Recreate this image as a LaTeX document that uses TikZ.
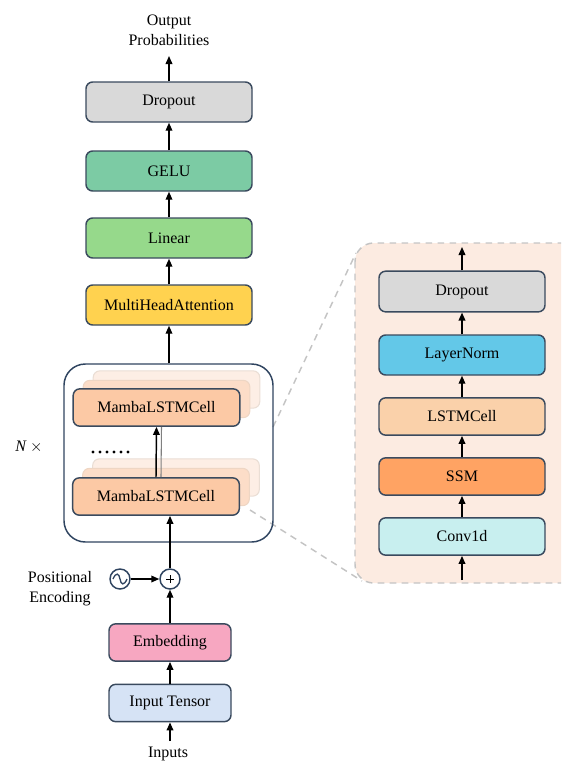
\documentclass[tikz,border=0pt]{standalone}
\usepackage{fontspec}
\setmainfont{Liberation Serif}
\usetikzlibrary{arrows.meta,calc}
\definecolor{cEdge}{HTML}{3A4A5E}
\definecolor{cDrop}{HTML}{D9D9D9}
\definecolor{cGelu}{HTML}{7CCBA4}
\definecolor{cLin}{HTML}{96D98B}
\definecolor{cMha}{HTML}{FFD24F}
\definecolor{cMamba}{HTML}{FCC9A5}
\definecolor{cMambaB}{HTML}{FCDDC8}
\definecolor{cMambaC}{HTML}{FDEEE5}
\definecolor{cEmb}{HTML}{F7A7C1}
\definecolor{cInp}{HTML}{D6E3F5}
\definecolor{cLN}{HTML}{63C8E8}
\definecolor{cLSTM}{HTML}{FAD1AA}
\definecolor{cSSM}{HTML}{FFA363}
\definecolor{cConv}{HTML}{C8EFEF}
\definecolor{cPanel}{HTML}{FCEBE1}
\definecolor{cDash}{HTML}{C4C4C4}
\definecolor{cCont}{HTML}{2F4460}
\tikzset{
  box/.style={draw=cEdge, line width=1.1pt, rounded corners=5pt, inner sep=0pt, font=\fontsize{12}{14}\selectfont},
  mainbox/.style={box, minimum width=124.5pt, minimum height=30pt},
  mambabox/.style={box, minimum width=125pt, minimum height=28pt, fill=cMamba},
  ghostB/.style={draw=cMamba!80!gray!60, line width=0.8pt, rounded corners=5pt, minimum width=125pt, minimum height=28pt, fill=cMambaB},
  ghostC/.style={draw=cMamba!60!gray!40, line width=0.8pt, rounded corners=5pt, minimum width=125pt, minimum height=28pt, fill=cMambaC},
  smallbox/.style={box, minimum width=91.5pt, minimum height=28pt},
  rbox/.style={box, minimum width=124.5pt, minimum height=29pt},
  conn/.style={line width=1.1pt, -{Triangle[length=6pt,width=5pt]}},
  lbl/.style={font=\fontsize{12}{15}\selectfont, align=center, inner sep=0pt},
  dashline/.style={draw=cDash, line width=1.1pt, dash pattern=on 5pt off 4pt},
}
\begin{document}
\begin{tikzpicture}[x=0.75pt,y=-0.75pt]
\useasboundingbox (0,0) rectangle (561,764);
\clip (0,0) rectangle (561,764);

% dashed zoom lines
\coordinate (zu1) at (273,427);
\coordinate (zu2) at (356,253);
\coordinate (zl1) at (250,510);
\coordinate (zl2) at (362,581);
\draw[dashline] (zu1) -- (zu2);
\draw[dashline] (zl1) -- (zl2);

% right panel
\draw[draw=cDash, fill=cPanel, line width=1.1pt, dash pattern=on 5pt off 4pt, rounded corners=14pt] (355,243) rectangle (585,583);

% main column
\node[lbl] (out) at (169,30) {Output\\Probabilities};
\coordinate (outArr) at (169,56);
\node[mainbox, fill=cDrop] (drop) at (169,102) {Dropout};
\node[mainbox, fill=cGelu] (gelu) at (169,171) {GELU};
\node[mainbox, fill=cLin] (lin) at (169,238) {Linear};
\node[mainbox, fill=cMha] (mha) at (169,305) {MultiHeadAttention};

% container
\node[draw=cCont, line width=1.1pt, rounded corners=16pt, minimum width=156.75pt, minimum height=133.5pt, inner sep=0pt] (cont) at (168.5,453) {};

% ghost cells
\node[ghostC] (g1c) at (176.5,389.5) {};
\node[ghostB] (g1b) at (166.5,399) {};
\node[mambabox] (m1) at (156.5,407.5) {MambaLSTMCell};
\node[ghostC] (g2c) at (176,477.5) {};
\node[ghostB] (g2b) at (166,487) {};
\node[mambabox] (m2) at (156,496.5) {MambaLSTMCell};

% dots
\foreach \i in {0,...,5} { \fill (93+7*\i,452) circle (1.6); }
\node[lbl, font=\fontsize{12}{14}\selectfont\itshape] (nx) at (29,447) {N \upshape$\times$};

% inner arrow (double)
\draw[line width=0.8pt, gray] ($(m2.north)+(5,0)$) -- ($(m1.south)+(5,0)$);
\draw[conn] (m2.north) -- (m1.south);

% positional encoding
\node[draw=cCont, line width=1.1pt, circle, minimum size=15pt, inner sep=0pt] (plus) at (170,579) {};
\draw[line width=0.6pt] ($(plus.center)+(-4,0)$) -- ($(plus.center)+(4,0)$);
\draw[line width=0.6pt] ($(plus.center)+(0,-4)$) -- ($(plus.center)+(0,4)$);
\node[draw=cCont, line width=1.1pt, circle, minimum size=15pt, inner sep=0pt] (sine) at (120,579) {};
\draw[cCont, line width=1pt] ($(sine.center)+(-7,0)$) .. controls ($(sine.center)+(-4,-7)$) and ($(sine.center)+(-1,-6)$) .. (sine.center) .. controls ($(sine.center)+(1,6)$) and ($(sine.center)+(4,7)$) .. ($(sine.center)+(7,0)$);
\node[lbl] (pe) at (60,589) {Positional\\Encoding};

\node[smallbox, fill=cEmb] (emb) at (170,642.5) {Embedding};
\node[smallbox, fill=cInp] (inp) at (170,703) {Input Tensor};
\coordinate (inArr) at (170,741);
\node[lbl, anchor=base] (inputs) at (168,757) {Inputs};

\draw[conn] (drop.north) -- (outArr);
\draw[conn] (gelu.north) -- (drop.south);
\draw[conn] (lin.north) -- (gelu.south);
\draw[conn] (mha.north) -- (lin.south);
\draw[conn] (cont.north -| mha.south) -- (mha.south);
\draw[conn] (plus.north) -- (plus.north |- m2.south);
\draw[conn] (sine.east) -- (plus.west);
\draw[conn] (emb.north) -- (plus.south);
\draw[conn] (inp.north) -- (emb.south);
\draw[conn] (inArr) -- (inp.south);

% right column
\node[rbox, fill=cDrop, minimum height=30.5pt] (rdrop) at (462,291.5) {Dropout};
\node[rbox, fill=cLN, minimum height=30pt] (rln) at (462,355) {LayerNorm};
\node[rbox, fill=cLSTM, minimum height=28pt] (rlstm) at (462,416.5) {LSTMCell};
\node[rbox, fill=cSSM, minimum height=28pt] (rssm) at (462,476.5) {SSM};
\node[rbox, fill=cConv, minimum height=28pt] (rconv) at (462,536.5) {Conv1d};
\coordinate (rtop) at (462,247);
\coordinate (rbot) at (462,580);
\draw[conn] (rdrop.north) -- (rtop);
\draw[conn] (rln.north) -- (rdrop.south);
\draw[conn] (rlstm.north) -- (rln.south);
\draw[conn] (rssm.north) -- (rlstm.south);
\draw[conn] (rconv.north) -- (rssm.south);
\draw[conn] (rbot) -- (rconv.south);
\end{tikzpicture}
\end{document}
